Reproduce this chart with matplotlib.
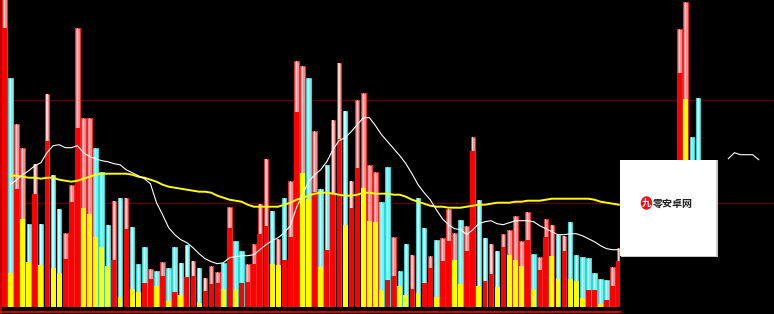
import matplotlib
matplotlib.use("Agg")
import matplotlib.pyplot as plt
from matplotlib.patches import Rectangle, Ellipse
from matplotlib.lines import Line2D

plt.rcParams['font.family'] = ['Noto Sans CJK SC', 'DejaVu Sans']

# ---------------- data ----------------
bar_index = list(range(0, 102)) + [111, 112, 113, 114]

# outer bar type: P = up day (pink), C = down day (cyan)
outer_kind = ("PCPPCPCPCC" "PPPPPCCCPC" "PCCCPCPCCC" "CPCPPPCPCC" "PPPPCPCPPP"
              "CPCCPPCPPP" "PPCCPCCPCC" "PCPPPCPPCC" "PCPPPPPCPP" "PCPCCCCCCC"
              "PP" "PPCC")
# inner bar colour: R = red, Y = yellow
inner_kind = ("RYRYYRYRYY" "RRRYYYYYRY" "RYYRRYRYRY" "RRYRRRYRYR" "RRRRYYRRRY"
              "YRYRRRYRRY" "YYYRRYYRYR" "RYRRYYRRYR" "RYRYYYRYRR" "YYRYYYRRYR"
              "RR" "RYYY")

total_vol = [312, 229, 183, 159, 83, 143, 83, 213, 132, 98,
             74, 122, 279, 189, 189, 159, 135, 82, 106, 109,
             109, 80, 43, 60, 38, 36, 45, 39, 60, 44,
             62, 46, 39, 29, 41, 35, 44, 100, 66, 56,
             43, 63, 103, 148, 96, 68, 109, 126, 246, 241,
             229, 176, 118, 142, 187, 244, 196, 126, 207, 214,
             142, 135, 105, 140, 70, 36, 63, 52, 109, 79,
             51, 67, 69, 98, 74, 87, 81, 170, 107, 69,
             63, 56, 73, 77, 91, 66, 95, 53, 50, 88,
             82, 72, 71, 85, 52, 50, 49, 34, 28, 27,
             40, 59,
             278, 305, 170, 209]

inner_vol = [279, 34, 118, 88, 45, 113, 42, 166, 39, 34,
             48, 105, 179, 99, 93, 70, 60, 41, 47, 10,
             78, 18, 15, 24, 28, 21, 31, 6, 15, 12,
             30, 31, 4, 16, 23, 24, 18, 79, 18, 24,
             25, 43, 73, 81, 43, 42, 47, 70, 195, 134,
             108, 115, 40, 57, 114, 168, 82, 99, 139, 119,
             86, 85, 17, 27, 31, 21, 12, 18, 14, 24,
             39, 10, 46, 66, 47, 23, 56, 156, 21, 26,
             33, 20, 60, 52, 47, 41, 67, 18, 37, 70,
             51, 28, 56, 28, 26, 9, 17, 17, 3, 7,
             21, 46,
             234, 208, 100, 100]

ma_index = list(range(1, 102))
ma_long = [131, 131, 130, 129, 129, 128, 129, 129, 127, 126,
           125, 126, 128, 130, 132, 133, 133, 133, 133, 133,
           132, 130, 129, 127, 125, 122, 120, 119, 118, 117,
           116, 115, 115, 114, 111, 109, 107, 106, 105, 102,
           100, 100, 100, 100, 100, 102, 104, 107, 109, 111,
           113, 114, 114, 113, 112, 111, 111, 112, 114, 114,
           113, 113, 113, 112, 112, 110, 107, 105, 103, 101,
           100, 100, 99, 99, 99, 100, 101, 102, 102, 103,
           104, 104, 104, 105, 105, 106, 106, 106, 107, 108,
           108, 108, 108, 108, 108, 108, 107, 105, 104, 103,
           102]
ma_short = [122, 127, 132, 136, 141, 144, 154, 161, 162, 159,
            159, 161, 154, 150, 148, 146, 145, 143, 142, 137,
            134, 131, 128, 123, 104, 92, 79, 72, 67, 64,
            59, 53, 48, 45, 43, 44, 49, 50, 51, 51,
            52, 57, 62, 66, 69, 74, 81, 99, 112, 125,
            132, 137, 145, 157, 166, 169, 175, 182, 189, 189,
            181, 172, 165, 158, 151, 143, 133, 122, 114, 107,
            97, 88, 82, 78, 77, 72, 77, 83, 85, 86,
            83, 82, 84, 86, 86, 86, 85, 81, 78, 75,
            72, 72, 73, 73, 71, 68, 65, 61, 58, 57,
            57]
ma_short_tail_index = [119, 120, 121, 122, 123, 124]
ma_short_tail = [148, 154, 152, 152, 152, 147]

grid_levels = [104, 207]

# ---------------- figure ----------------
W, H = 774, 314
fig = plt.figure(figsize=(W / 100, H / 100), dpi=100)
fig.patch.set_facecolor('black')

bottom_px = 7.3
ax = fig.add_axes([0, bottom_px / H, 1, (H - bottom_px) / H])
ax.set_facecolor('black')
pitch = 6.083
xmin = -4.42 / pitch
ax.set_xlim(xmin, xmin + W / pitch)
ax.set_ylim(0, H - bottom_px)
for s in ax.spines.values():
    s.set_visible(False)
ax.set_xticks([])
ax.set_yticks([])

for g in grid_levels:
    ax.axhline(g, color='#5a0000', lw=1.0, zorder=0.5)

outer_face = {'P': '#ff8c8c', 'C': '#6ef6f6'}
outer_edge = {'P': '#ff2424', 'C': '#2fe6e6'}
outer_mid = {'P': '#ffd0d0', 'C': '#c8ffff'}
inner_face = {'R': '#ff0000', 'Y': '#ffff00'}

bw = 0.74
ok = list(outer_kind)
ik = list(inner_kind)
ax.bar(bar_index, total_vol, width=bw,
       color=[outer_face[k] for k in ok],
       edgecolor=[outer_edge[k] for k in ok], linewidth=0.6, zorder=2)
ax.bar(bar_index, total_vol, width=bw * 0.3,
       color=[outer_mid[k] for k in ok], linewidth=0, zorder=2.2)
ax.bar(bar_index, inner_vol, width=bw + 0.06,
       color=[inner_face[k] for k in ik], linewidth=0, zorder=2.5)

ax.plot(ma_index, ma_long, color='#ffff00', lw=1.4, zorder=3)
ax.plot(ma_index, ma_short, color='white', lw=0.8, zorder=3.2)
ax.plot(ma_short_tail_index, ma_short_tail, color='white', lw=0.8, zorder=3.2)


def fx(px):
    return px / W


def fy(py):
    return 1 - py / H


# black area right of the main panel, below the box
fig.add_artist(Rectangle((fx(620), 0), fx(W - 620), fy(256), transform=fig.transFigure,
                         facecolor='black', edgecolor='none', zorder=5))
# bottom red baseline and left red edge
fig.add_artist(Line2D([0, fx(620)], [fy(312.3), fy(312.3)], transform=fig.transFigure,
                      color='#e00000', lw=1.3, zorder=6))
fig.add_artist(Line2D([fx(0.7), fx(0.7)], [fy(313), 1], transform=fig.transFigure,
                      color='#e00000', lw=1.2, zorder=6))

# watermark box
fig.add_artist(Rectangle((fx(621), fy(257)), fx(96.5), (257 - 160) / H, transform=fig.transFigure,
                         facecolor='#c8c8c8', edgecolor='none', zorder=7))
fig.add_artist(Rectangle((fx(620), fy(256)), fx(96), (256 - 160) / H, transform=fig.transFigure,
                         facecolor='white', edgecolor='none', zorder=7.1))
fig.add_artist(Ellipse((fx(646.5), fy(203)), fx(11.5), 13.5 / H, transform=fig.transFigure,
                       facecolor='#e8141c', edgecolor='none', zorder=7.2))
fig.text(fx(646.5), fy(203.5), '九', color='white', fontsize=6.5, ha='center', va='center',
         fontweight='bold', zorder=7.3)
fig.text(fx(653), fy(203.5), '零安卓网', color='#222222', fontsize=7.2, ha='left', va='center',
         fontweight='bold', zorder=7.3)

fig.savefig('out.png', dpi=100, facecolor='black')
